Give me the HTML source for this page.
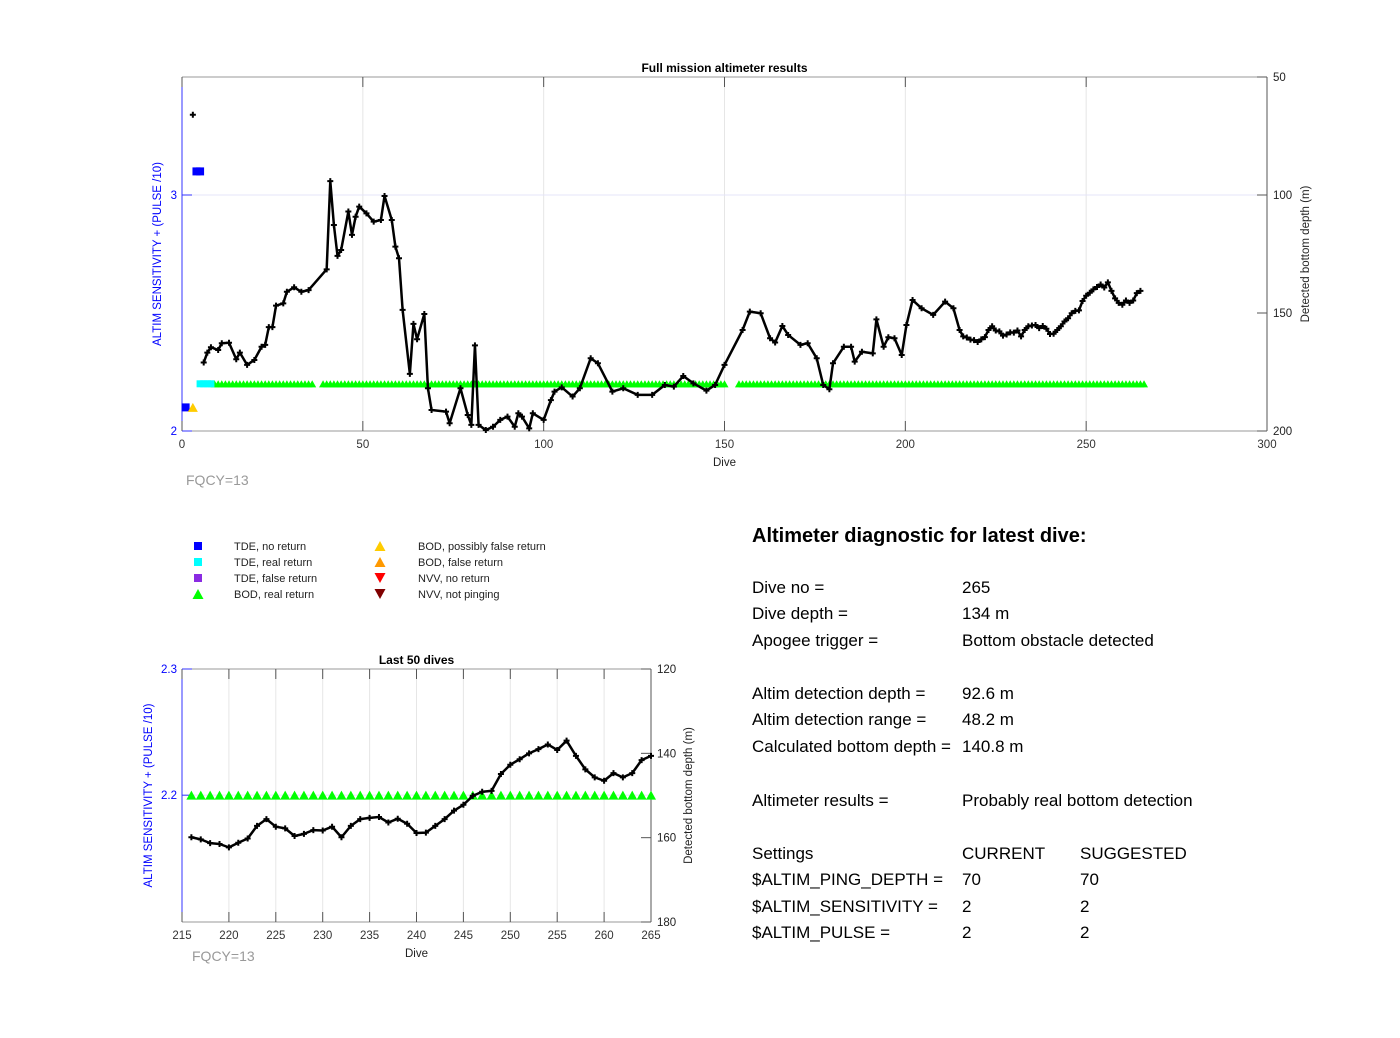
<!DOCTYPE html>
<html><head><meta charset="utf-8"><style>
body{margin:0;background:#fff;width:1400px;height:1038px;overflow:hidden;font-family:"Liberation Sans",Arial,sans-serif}
#c{position:absolute;left:0;top:0}
.diag{position:absolute;font-size:17px;color:#000;white-space:nowrap}
</style></head><body>
<svg id="c" width="1400" height="1038" font-family="Liberation Sans, Arial, sans-serif"></svg>
<div class="diag" style="left:752px;top:525px;font-size:20px;font-weight:bold">Altimeter diagnostic for latest dive:</div>
<div>
<div class="diag" style="left:752px;top:578px">Dive no =</div><div class="diag" style="left:962px;top:578px">265</div>
<div class="diag" style="left:752px;top:604px">Dive depth =</div><div class="diag" style="left:962px;top:604px">134 m</div>
<div class="diag" style="left:752px;top:631px">Apogee trigger =</div><div class="diag" style="left:962px;top:631px">Bottom obstacle detected</div>
<div class="diag" style="left:752px;top:684px">Altim detection depth =</div><div class="diag" style="left:962px;top:684px">92.6 m</div>
<div class="diag" style="left:752px;top:710px">Altim detection range =</div><div class="diag" style="left:962px;top:710px">48.2 m</div>
<div class="diag" style="left:752px;top:737px">Calculated bottom depth =</div><div class="diag" style="left:962px;top:737px">140.8 m</div>
<div class="diag" style="left:752px;top:791px">Altimeter results =</div><div class="diag" style="left:962px;top:791px">Probably real bottom detection</div>
<div class="diag" style="left:752px;top:844px">Settings</div><div class="diag" style="left:962px;top:844px">CURRENT</div><div class="diag" style="left:1080px;top:844px">SUGGESTED</div>
<div class="diag" style="left:752px;top:870px">$ALTIM_PING_DEPTH =</div><div class="diag" style="left:962px;top:870px">70</div><div class="diag" style="left:1080px;top:870px">70</div>
<div class="diag" style="left:752px;top:897px">$ALTIM_SENSITIVITY =</div><div class="diag" style="left:962px;top:897px">2</div><div class="diag" style="left:1080px;top:897px">2</div>
<div class="diag" style="left:752px;top:923px">$ALTIM_PULSE =</div><div class="diag" style="left:962px;top:923px">2</div><div class="diag" style="left:1080px;top:923px">2</div>
</div>
<script>
// ---- data ----
const dives = [6,7,8,10,11,13,15,16,18,20,22,23,24,25,26,28,29,31,33,35,40,41,42,43,44,46,47,48,49,51,53,55,56,58,59,60,61,63,64,65,67,68,69,73,74,77,79,80,81,82,84,86,88,90,92,93,94,96,97,100,102,103,105,108,110,113,115,119,122,126,130,133.5,136,138.6,141.4,145,147.4,150,155,157,160,162.6,164,166,167.6,171,173,175.5,177.3,179,180,183,185,186,188,191,192,194,195.3,197,199,200.3,202,204.5,207.7,211,213.3,215,
216,217,218,219,220,221,222,223,224,225,226,227,228,229,230,231,232,233,234,235,236,237,238,239,240,241,242,243,244,245,246,247,248,249,250,251,252,253,254,255,256,257,258,259,260,261,262,263,264,265];
const depths = [171,166.8,164.5,165.7,162.8,162.6,169.6,166.8,172,169.9,164.3,163.5,156,156,146.9,145.9,141,139.1,141,140.3,131.5,94.1,112.7,125.8,123.3,107,116.9,109.2,104.9,107.8,111.3,110.6,100.4,110.6,121.9,126.8,148.7,175.8,154.6,161.1,150.4,181.9,191.1,191.8,196.7,181.9,193.2,197.4,163.7,197.4,199.6,198.2,195.3,193.9,198.2,192.5,193.9,198.9,192.5,195.3,186.9,183.3,181.5,185.4,181.9,169.2,171.3,183.3,181.9,184.7,184.7,180.5,181.2,176.7,179.8,182.9,180.5,172,157.2,149.4,150.1,160.7,162.5,155.5,159.3,163.5,162.8,169.2,180.5,182.3,171.3,164.3,164.3,170.6,166.4,167.1,152.7,164.3,160.3,160.7,167.8,155.1,144.5,148,150.8,145.2,148,157.2,
159.9,160.4,161.3,161.5,162.3,161.2,160.2,157.2,155.6,157.4,157.8,159.6,159.1,158.2,158.3,157.4,159.9,157.2,155.6,155.3,155.1,156.4,155.5,156.7,158.9,158.8,157.2,155.6,153.6,152.2,150.1,149.1,148.9,144.9,142.7,141.4,140.0,139.0,137.9,139.2,137.0,140.6,143.8,145.7,146.5,144.7,145.7,144.7,141.6,140.6];
const isolatedDive = [3]; const isolatedDepth = [66];
const bodRealRanges = [[9,36],[39,150],[154,266]];
const bodRealValue = 2.2;
const tdeNoDives = [1,4,5]; const tdeNoVals = [2.1,3.1,3.1];
const tdeRealDives = [5,6,7,8]; const tdeRealVals = [2.2,2.2,2.2,2.2];
const bodPossDives = [3]; const bodPossVals = [2.1];
const xTicks = [0,50,100,150,200,250,300];
const xTicks2 = [215,220,225,230,235,240,245,250,255,260,265];

const NS='http://www.w3.org/2000/svg';
const svg=document.getElementById('c');
function mk(tag,attrs,parent){const e=document.createElementNS(NS,tag);for(const k in attrs)e.setAttribute(k,attrs[k]);(parent||svg).appendChild(e);return e;}
function txt(s,x,y,attrs,parent){const t=mk('text',Object.assign({x:x,y:y,'font-size':11.5},attrs),parent);t.textContent=s;return t;}
function plus(g,x,y,s){mk('path',{d:`M${x-s},${y}H${x+s}M${x},${y-s}V${y+s}`,stroke:'#000','stroke-width':2},g);}
function tri(g,x,y,s,fill,down){const h=s*0.9;const d=down?`M${x-s},${y-h}L${x+s},${y-h}L${x},${y+h}Z`:`M${x-s},${y+h}L${x+s},${y+h}L${x},${y-h}Z`;return mk('path',{d:d,fill:fill},g);}

function chart(o){
 const g=mk('g',{});
 
 
 const X=v=>o.x0+(v-o.xmin)/(o.xmax-o.xmin)*(o.x1-o.x0);
 const YL=v=>o.y1-(v-o.lmin)/(o.lmax-o.lmin)*(o.y1-o.y0);
 const YR=v=>o.y0+(v-o.rmin)/(o.rmax-o.rmin)*(o.y1-o.y0);
 o.xt.forEach(v=>{if(v>o.xmin&&v<o.xmax){const l=mk('line',{x1:X(v),x2:X(v),y1:o.y0,y2:o.y1,stroke:'#e6e6e6'},g);}});
 o.lt.forEach(v=>{if(v>o.lmin&&v<o.lmax){mk('line',{x1:o.x0,x2:o.x1,y1:YL(v),y2:YL(v),stroke:'#e4e4f8'},g);}});
 mk('line',{x1:o.x0,x2:o.x1,y1:o.y0,y2:o.y0,stroke:'#999'},g);
 mk('line',{x1:o.x0,x2:o.x1,y1:o.y1,y2:o.y1,stroke:'#999'},g);
 mk('line',{x1:o.x0,x2:o.x0,y1:o.y0,y2:o.y1,stroke:'#3333ff'},g);
 mk('line',{x1:o.x1,x2:o.x1,y1:o.y0,y2:o.y1,stroke:'#555'},g);
 o.xt.forEach(v=>{const x=X(v);mk('line',{x1:x,x2:x,y1:o.y1,y2:o.y1-10,stroke:'#555'},g);mk('line',{x1:x,x2:x,y1:o.y0,y2:o.y0+10,stroke:'#555'},g);
  const t=txt(String(v),x,o.y1+17,{'text-anchor':'middle',fill:'#333'},g);});
 o.lt.forEach(v=>{const y=YL(v);mk('line',{x1:o.x0,x2:o.x0+10,y1:y,y2:y,stroke:'#33f'},g);
  const t=txt(o.lfmt(v),o.x0-5,y+4,{'text-anchor':'end',fill:'#0000ff'},g);});
 o.rt.forEach(v=>{const y=YR(v);mk('line',{x1:o.x1,x2:o.x1-10,y1:y,y2:y,stroke:'#555'},g);
  const t=txt(String(v),o.x1+6,y+4,{fill:'#222'},g);});
 const tt=txt(o.title,(o.x0+o.x1)/2,o.y0-5,{'text-anchor':'middle','font-weight':'bold','font-size':12},g);
 const xl=txt('Dive',(o.x0+o.x1)/2,o.y1+35,{'text-anchor':'middle',fill:'#222'},g);
 const lx=o.x0-o.lOff,ly=(o.y0+o.y1)/2;
 const la=txt('ALTIM SENSITIVITY + (PULSE /10)',lx,ly,{'text-anchor':'middle',fill:'#0000ff',transform:`rotate(-90 ${lx} ${ly})`},g);
 const rx=o.x1+o.rOff;
 const ra=txt('Detected bottom depth (m)',rx,ly,{'text-anchor':'middle',fill:'#222',transform:`rotate(-90 ${rx} ${ly})`},g);
 const fq=txt('FQCY=13',o.fqx,o.fqy,{fill:'#999','font-size':14},g);
 const gm=mk('g',{},g);
 bodRealRanges.forEach(r=>{for(let d=r[0];d<=r[1];d++){if(d<o.dmin||d>o.dmax)continue;const p=tri(gm,X(d),YL(bodRealValue),o.ts,'#00ff00');}});
 if(o.full){
  tdeRealDives.forEach((d,i)=>{const r=mk('rect',{x:X(d)-3.5,y:YL(tdeRealVals[i])-3.5,width:7,height:7,fill:'#00ffff'},gm);});
  tdeNoDives.forEach((d,i)=>{const r=mk('rect',{x:X(d)-4,y:YL(tdeNoVals[i])-4,width:8,height:8,fill:'#0000ff'},gm);});
  bodPossDives.forEach((d,i)=>{const p=tri(gm,X(d),YL(bodPossVals[i]),5,'#ffcc00');});
  isolatedDive.forEach((d,i)=>plus(gm,X(d),YR(isolatedDepth[i]),3));
 }
 const pts=[];dives.forEach((d,i)=>{if(d>=o.dmin&&d<=o.dmax)pts.push([X(d),YR(depths[i])]);});
 const line=mk('polyline',{points:pts.map(p=>p.join(',')).join(' '),fill:'none',stroke:'#000','stroke-width':2.5,'stroke-linejoin':'round'},g);
 
 
 pts.forEach(p=>plus(g,p[0],p[1],3));
}
chart({name:'full-mission-chart',title:'Full mission altimeter results',x0:182,x1:1267,y0:77,y1:431,xmin:0,xmax:300,dmin:0,dmax:300,lmin:2,lmax:3.5,rmin:50,rmax:200,
 xt:xTicks,lt:[2,3],rt:[50,100,150,200],lfmt:v=>String(v),lOff:21,rOff:42,fqx:186,fqy:485,ts:4,full:true});
chart({name:'last-50-dives-chart',title:'Last 50 dives',x0:182,x1:651,y0:669,y1:922,xmin:215,xmax:265,dmin:216,dmax:265,lmin:2.0995,lmax:2.3,rmin:120,rmax:180,
 xt:xTicks2,lt:[2.2,2.3],rt:[120,140,160,180],lfmt:v=>v.toFixed(1),lOff:30,rOff:41,fqx:192,fqy:961,ts:5,full:false});

const leg=mk('g',{});


const legItems=[['TDE, no return','sq','#0000ff',198,234,546],['TDE, real return','sq','#00ffff',198,234,562],['TDE, false return','sq','#8a2be2',198,234,578],['BOD, real return','up','#00ff00',198,234,594],
 ['BOD, possibly false return','up','#ffcc00',380,418,546],['BOD, false return','up','#ff9900',380,418,562],['NVV, no return','down','#ff0000',380,418,578],['NVV, not pinging','down','#800000',380,418,594]];
legItems.forEach(it=>{const e=mk('g',{},leg);
 if(it[1]==='sq')mk('rect',{x:it[3]-4,y:it[5]-4,width:8,height:8,fill:it[2]},e);else tri(e,it[3],it[5],5.5,it[2],it[1]==='down');
 txt(it[0],it[4],it[5]+4,{'font-size':11,fill:'#222'},e);});
</script>
</body></html>
